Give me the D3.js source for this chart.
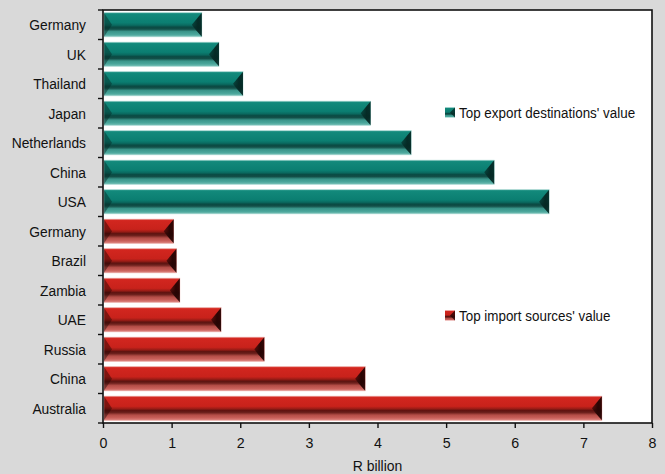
<!DOCTYPE html>
<html>
<head>
<meta charset="utf-8">
<script src="https://cdn.jsdelivr.net/npm/d3@7"></script>
<style>
  html, body { margin: 0; padding: 0; background: #d9d9d9; }
  svg { display: block; }
  text { font-family: "Liberation Sans", Arial, sans-serif; fill: #111; }
</style>
</head>
<body>
<svg id="chart" width="665" height="474"></svg>
<script>
// ---- data ----
const exportCountries = ["Germany", "UK", "Thailand", "Japan", "Netherlands", "China", "USA"];
const exportValues    = [1.44, 1.69, 2.04, 3.90, 4.49, 5.70, 6.50];
const importCountries = ["Germany", "Brazil", "Zambia", "UAE", "Russia", "China", "Australia"];
const importValues    = [1.03, 1.07, 1.12, 1.72, 2.35, 3.82, 7.27];
const seriesNames     = ["Top export destinations' value", "Top import sources' value"];
const xTicks          = [0, 1, 2, 3, 4, 5, 6, 7, 8];
const xTitle          = "R billion";

const rows = exportCountries.map((c, i) => ({ label: c, value: exportValues[i], s: 0 }))
  .concat(importCountries.map((c, i) => ({ label: c, value: importValues[i], s: 1 })));
rows.forEach((r, i) => r.id = i);

const svg = d3.select("#chart");
const margin = { left: 103, right: 13, top: 10, bottom: 51 };
const W = 665, H = 474;
const x = d3.scaleLinear().domain([0, 8]).range([margin.left, W - margin.right]);
const y = d3.scaleBand().domain(rows.map(d => d.id)).range([margin.top, H - margin.bottom]).paddingInner(0.18).paddingOuter(0.09);

// narrow text helper (condensed look)
function ntext(parent, tx, ty, str, size, anchor, sx) {
  return parent.append("text")
    .attr("transform", `translate(${tx},${ty}) scale(${sx},1)`)
    .attr("dy", "0.36em").attr("text-anchor", anchor)
    .attr("font-size", size).text(str);
}

// gradients
const defs = svg.append("defs");
const pal = [
  { id: "g0", stops: [[0, "#3aa295"], [0.06, "#12897b"], [0.42, "#0b7e71"], [0.52, "#0a6a60"], [0.60, "#0a4a43"], [0.68, "#134f48"], [0.78, "#3a958a"], [0.9, "#4aa69b"], [1, "#7cc3ba"]], dark: "#052824" },
  { id: "g1", stops: [[0, "#e04a42"], [0.06, "#d2261f"], [0.42, "#c8221b"], [0.52, "#9a1c16"], [0.60, "#5c1310"], [0.68, "#6e211d"], [0.78, "#b44d47"], [0.9, "#c9605a"], [1, "#e08a85"]], dark: "#240403" }
];
pal.forEach(p => {
  const g = defs.append("linearGradient").attr("id", p.id).attr("x1", 0).attr("x2", 0).attr("y1", 0).attr("y2", 1);
  p.stops.forEach(s => g.append("stop").attr("offset", s[0]).attr("stop-color", s[1]));
  const r = defs.append("linearGradient").attr("id", p.id + "r").attr("x1", 0).attr("x2", 1).attr("y1", 0).attr("y2", 0);
  r.append("stop").attr("offset", 0).attr("stop-color", p.dark).attr("stop-opacity", 0.6);
  r.append("stop").attr("offset", 0.6).attr("stop-color", p.dark).attr("stop-opacity", 0.97);
  r.append("stop").attr("offset", 1).attr("stop-color", p.dark).attr("stop-opacity", 0.9);
});

// plot background
svg.append("rect").attr("x", x(0)).attr("y", margin.top)
  .attr("width", x(8) - x(0)).attr("height", H - margin.bottom - margin.top)
  .attr("fill", "#fff");

// bars
const bars = svg.append("g").selectAll("g").data(rows).join("g");
const x0 = x(0) + 1;
bars.append("rect")
  .attr("x", x0).attr("y", d => y(d.id))
  .attr("width", d => x(d.value) - x0).attr("height", y.bandwidth())
  .attr("fill", d => `url(#g${d.s})`)
  .attr("stroke", d => d.s ? "#e9a9a5" : "#a9d8d2").attr("stroke-width", 0.6);
// left bevel
bars.append("path")
  .attr("d", d => {
    const y0 = y(d.id), h = y.bandwidth();
    return `M${x0},${y0}L${x0 + 8},${y0 + h * 0.5}L${x0},${y0 + h}Z`;
  })
  .attr("fill", d => pal[d.s].dark).attr("opacity", 0.45);
// right bevel
bars.append("path")
  .attr("d", d => {
    const y0 = y(d.id), h = y.bandwidth(), x1 = x(d.value);
    return `M${x1},${y0}L${x1 - 10},${y0 + h * 0.5}L${x1 - 6},${y0 + h * 0.72}L${x1},${y0 + h}Z`;
  })
  .attr("fill", d => `url(#g${d.s}r)`);

// border of plot area
svg.append("rect").attr("x", x(0)).attr("y", margin.top)
  .attr("width", x(8) - x(0)).attr("height", H - margin.bottom - margin.top)
  .attr("fill", "none").attr("stroke", "#111").attr("stroke-width", 1.6);

// y axis ticks (between categories)
const yb = H - margin.bottom;
const ySep = d3.range(rows.length + 1).map(i => margin.top + i * (yb - margin.top) / rows.length);
svg.append("g").selectAll("line").data(ySep).join("line")
  .attr("x1", x(0) - 5).attr("x2", x(0)).attr("y1", d => d).attr("y2", d => d)
  .attr("stroke", "#111").attr("stroke-width", 1.4);
const yl = svg.append("g");
rows.forEach(d => ntext(yl, 86, y(d.id) + y.bandwidth() / 2, d.label, 15.5, "end", 0.89));

// x axis
const xa = svg.append("g").attr("transform", `translate(0,${yb})`)
  .call(d3.axisBottom(x).tickValues(xTicks).tickSize(5).tickSizeOuter(0).tickPadding(9).tickFormat(d3.format("d")));
xa.select(".domain").remove();
xa.selectAll("line").attr("stroke", "#111").attr("stroke-width", 1.4);
xa.selectAll("text").attr("font-size", 15.5).attr("fill", "#111")
  .style("font-family", '"Liberation Sans", Arial, sans-serif')
  .attr("transform", "scale(0.92,1)")
  .attr("x", function() { return 0; });
ntext(svg, (x(0) + x(8)) / 2, 465.5, xTitle, 15.5, "middle", 0.9);

// legend
const legY = [112.5, 315.5];
seriesNames.forEach((n, i) => {
  const g = svg.append("g").attr("transform", `translate(445,${legY[i]})`);
  g.append("rect").attr("x", 0).attr("y", -5).attr("width", 10).attr("height", 10)
    .attr("fill", `url(#g${i})`);
  g.append("path").attr("d", "M10,-5L5,0L10,5Z").attr("fill", pal[i].dark).attr("opacity", 0.8);
  ntext(g, 14, 0, n, 14.5, "start", 0.925);
});
</script>
</body>
</html>
